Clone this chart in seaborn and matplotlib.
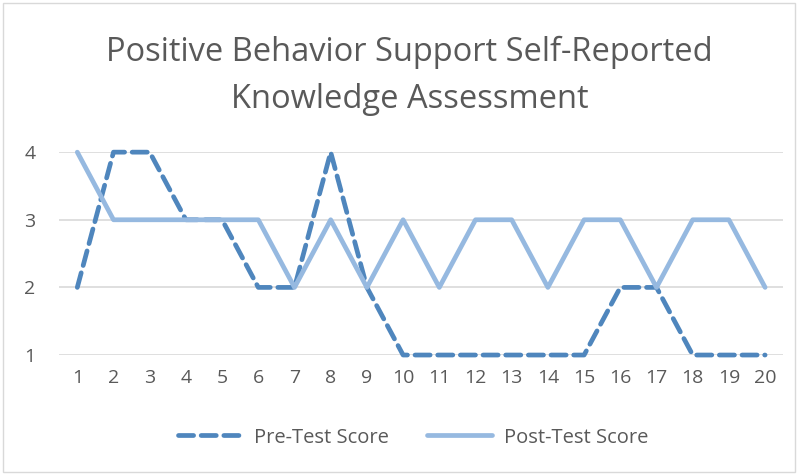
import numpy as np
import pandas as pd
import seaborn as sns
import matplotlib.pyplot as plt
from matplotlib.lines import Line2D

# data
participants = list(range(1, 21))
pre_test = [2, 4, 4, 3, 3, 2, 2, 4, 2, 1, 1, 1, 1, 1, 1, 2, 2, 1, 1, 1]
post_test = [4, 3, 3, 3, 3, 3, 2, 3, 2, 3, 2, 3, 3, 2, 3, 3, 2, 3, 3, 2]
series_names = ["Pre-Test Score", "Post-Test Score"]

df = pd.DataFrame({
    "x": participants * 2,
    "score": pre_test + post_test,
    "series": [series_names[0]] * 20 + [series_names[1]] * 20,
})

sns.set_theme(style="white")
plt.rcParams['font.family'] = ['Open Sans', 'DejaVu Sans']

fig = plt.figure(figsize=(8, 4.74), dpi=100)
ax = fig.add_axes([0.074, 0.251, 0.905, 0.428])

pal = {series_names[0]: "#4f86bd", series_names[1]: "#96b9e0"}
dash = (3.2, 1.6)
sns.lineplot(data=df, x="x", y="score", hue="series", style="series",
             palette=pal, dashes={series_names[0]: dash, series_names[1]: ""},
             linewidth=3.4, ax=ax, legend=False)
for l in ax.lines:
    l.set_solid_capstyle("round")
    l.set_dash_capstyle("round")
    l.set_clip_on(False)

ax.set_xlim(0.5, 20.5)
ax.set_ylim(1, 4)
ax.set_xticks(participants)
ax.set_yticks([1, 2, 3, 4])
ax.grid(axis="y", color="#d9d9d9", linewidth=1.2)
ax.set_axisbelow(True)
for s in ax.spines.values():
    s.set_visible(False)
ax.tick_params(axis="both", length=0, labelsize=14, colors="#595959")
ax.tick_params(axis="x", pad=10)
ax.tick_params(axis="y", pad=17)
ax.set_xlabel("")
ax.set_ylabel("")

fig.suptitle("Positive Behavior Support Self-Reported\nKnowledge Assessment",
             x=0.512, y=0.924, fontsize=23.5, color="#595959", linespacing=1.55)

# legend
handles = [Line2D([], [], color=pal[series_names[0]], lw=3.4, ls=(0, dash), dash_capstyle="round"),
           Line2D([], [], color=pal[series_names[1]], lw=3.4, solid_capstyle="round")]
fig.legend(handles, series_names, loc="center", bbox_to_anchor=(0.516, 0.077), ncol=2,
           frameon=False, fontsize=14.5, labelcolor="#595959", handlelength=3.2,
           columnspacing=1.9, handletextpad=0.6)

# outer frame
fig.patches.append(plt.Rectangle((0.004, 0.004), 0.99, 0.99, transform=fig.transFigure,
                                 fill=False, edgecolor="#d9d9d9", linewidth=1))

fig.savefig("out.png", dpi=100)
